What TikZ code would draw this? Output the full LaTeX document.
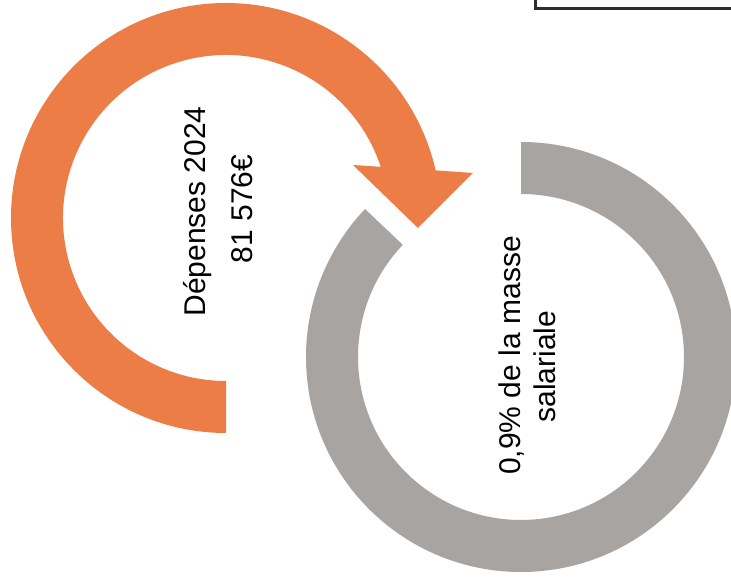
\documentclass[tikz,border=0pt]{standalone}
\usepackage{fontspec}
\setmainfont{Liberation Sans}
\usetikzlibrary{calc}

\definecolor{orangearc}{HTML}{EC7D46}
\definecolor{greyarc}{HTML}{A8A4A1}
\definecolor{boxedge}{HTML}{2E2E2E}

\tikzset{
    ringlabel/.style={rotate=90, anchor=base, inner sep=0pt,
        font=\fontsize{30}{36}\selectfont, text=black},
    legendbox/.style={draw=boxedge, line width=3pt}
}

\begin{document}
\begin{tikzpicture}[x=1pt, y=1pt]
        \useasboundingbox (0,0) rectangle (731,580);
        \clip (0,0) rectangle (731,580);
        \fill[white] (0,0) rectangle (731,580);
        \coordinate (oc) at (226,362);
        \coordinate (gc) at (521,223);
        % orange arrow
        \fill[orangearc] ($(oc)+(270:215)$) arc[start angle=270, end angle=12.8, radius=215]
            -- (473,407) -- (418,352) -- (353,415)
            -- ($(oc)+(18.3:163)$) arc[start angle=18.3, end angle=270, radius=163] -- cycle;
        % grey ring
        \fill[greyarc] ($(gc)+(90:215)$) arc[start angle=90, end angle=-223.5, radius=215]
            -- ($(gc)+(136.5:163)$) arc[start angle=136.5, end angle=450, radius=163] -- cycle;
        \draw[legendbox] (535,571) rectangle (745,595);
        \node[ringlabel] (dep1) at (205,368.5) {Dépenses 2024};
        \node[ringlabel] (dep2) at (252,371) {81 576€};
        \node[ringlabel] (masse1) at (520,224.5) {0,9\% de la masse};
        \node[ringlabel] (masse2) at (555,213.5) {salariale};
    \end{tikzpicture}
\end{document}
